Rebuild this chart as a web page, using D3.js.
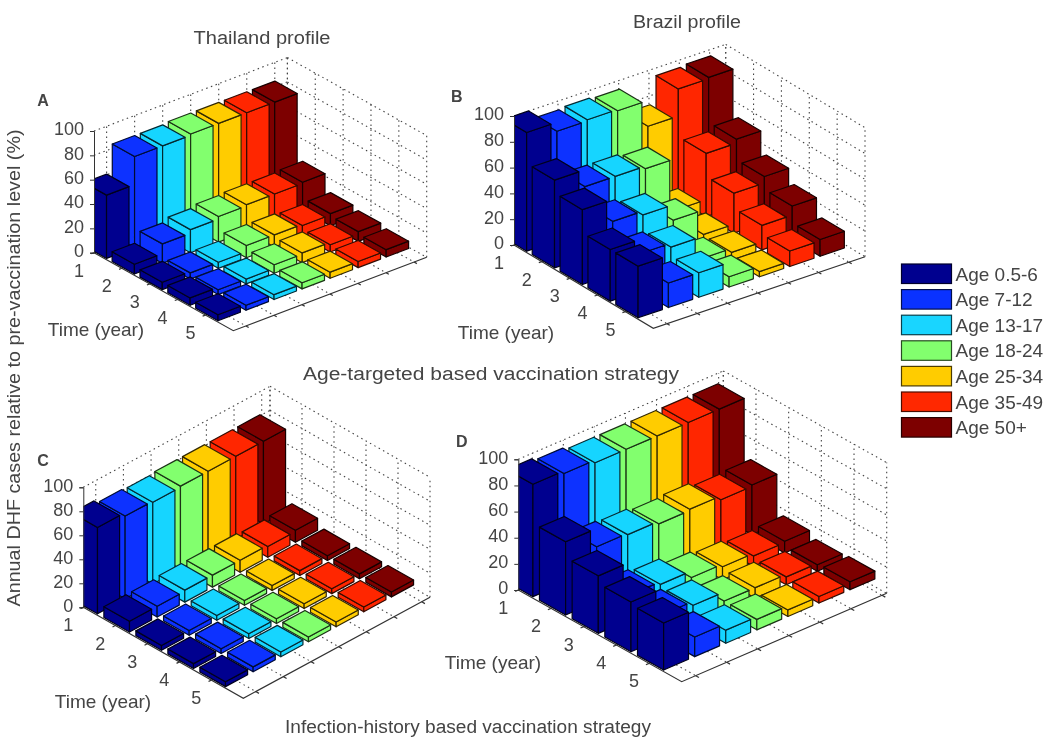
<!DOCTYPE html>
<html><head><meta charset="utf-8">
<style>
html,body{margin:0;padding:0;background:#fff;}
svg{display:block;font-family:"Liberation Sans",Arial,sans-serif;}
text{fill:#444;}
</style>
<script src="https://d3js.org/d3.v7.min.js"></script>
</head><body><svg id="c" width="1050" height="744"></svg>
<script>
const ageLabels=["Age 0.5-6","Age 7-12","Age 13-17","Age 18-24","Age 25-34","Age 35-49","Age 50+"];
const ageColors=["#00008f","#0a32ff","#19d5ff","#82ff6e","#ffcc00","#ff2800","#7d0000"];
const years=[1,2,3,4,5];
const ages=[1,2,3,4,5,6,7];
const zTicks=[0,20,40,60,80,100];
// rows = time (year 1..5), columns = age group
const valuesA=[
 [52,75,75,76,76,76,76],
 [8,16,19,21,22,22,23],
 [6,5,5,10,10,9,10],
 [6,4,4,7,8,6,8],
 [5,4,4,5,5,5,6]];
const valuesB=[
 [92,85,86,85,65,86,87],
 [68,55,55,53,13,49,52],
 [58,41,38,26,7,31,36],
 [40,29,26,9,6,19,26],
 [40,19,19,8,4,12,13]];
const valuesC=[
 [72,69,68,69,69,69,69],
 [9,9,10,10,10,9,10],
 [4,4,4,4,4,4,4],
 [4,4,4,4,4,4,4],
 [4,4,4,4,4,4,4]];
const valuesD=[
 [86,84,82,82,82,82,82],
 [56,42,41,39,40,37,38],
 [44,19,17,12,10,8,9],
 [38,18,15,8,8,6,5],
 [36,15,10,8,5,5,6]];

const panels=[
 {id:"A",values:valuesA,L:[94,252.7],F:[233.3,330.7],R:[426.7,257.3],zH:121.7,aMax:7.45,letter:[43,106],time:[96,336]},
 {id:"B",values:valuesB,L:[514,245],F:[653.3,328.3],R:[865,256.7],zH:129,aMax:7.53,letter:[456.7,102],time:[506,339]},
 {id:"C",values:valuesC,L:[83.3,607.3],F:[243.3,698.3],R:[430,597.3],zH:120,aMax:7.3,letter:[43,466],time:[103,708]},
 {id:"D",values:valuesD,L:[518.3,590],F:[681.7,681.7],R:[886.7,593.3],zH:130.7,aMax:7.15,letter:[461.7,447],time:[493,669]}
];
const tLim=[1,6], aMin=0.55, barHalf=0.4;
const svg=d3.select("#c");
const defs=svg.append("defs");
defs.append("filter").attr("id","soft").append("feGaussianBlur").attr("stdDeviation",0.5);
defs.append("filter").attr("id","softText").append("feGaussianBlur").attr("stdDeviation",0.35);

panels.forEach(p=>{
  const tx=d3.scaleLinear().domain(tLim).range([0,p.F[0]-p.L[0]]);
  const ty=d3.scaleLinear().domain(tLim).range([0,p.F[1]-p.L[1]]);
  const ax=d3.scaleLinear().domain([aMin,p.aMax]).range([0,p.R[0]-p.F[0]]);
  const ay=d3.scaleLinear().domain([aMin,p.aMax]).range([0,p.R[1]-p.F[1]]);
  const zs=d3.scaleLinear().domain([0,100]).range([p.L[1],p.L[1]-p.zH]);
  const pt=(t,a,v)=>[p.L[0]+tx(t)+ax(a), ty(t)+ay(a)+zs(v)];
  const line=d3.line();
  const g=svg.append("g");
  const clip="clip"+p.id;
  defs.append("clipPath").attr("id",clip).append("rect")
    .attr("x",p.L[0]).attr("y",0).attr("width",1050).attr("height",744);

  // dotted grid
  const grid=[];
  zTicks.forEach(z=>{
    grid.push([pt(tLim[0],aMin,z),pt(tLim[0],p.aMax,z)]);
    grid.push([pt(tLim[0],p.aMax,z),pt(tLim[1],p.aMax,z)]);
  });
  ages.forEach(a=>{
    grid.push([pt(tLim[0],a,0),pt(tLim[0],a,100)]);
    grid.push([pt(tLim[0],a,0),pt(tLim[1],a,0)]);
  });
  years.forEach(t=>{
    grid.push([pt(t,p.aMax,0),pt(t,p.aMax,100)]);
    grid.push([pt(t,aMin,0),pt(t,p.aMax,0)]);
  });
  grid.push([pt(tLim[0],p.aMax,0),pt(tLim[0],p.aMax,100)]);
  grid.push([pt(tLim[1],p.aMax,0),pt(tLim[1],p.aMax,100)]);
  g.append("g").attr("fill","none").attr("stroke","#444").attr("stroke-width",1.1)
   .attr("stroke-dasharray","1.5,3.5").selectAll("path").data(grid).join("path").attr("d",d=>line(d));

  // bars back to front
  const bars=[];
  years.forEach((t,ti)=>{
    for(let ai=ages.length-1;ai>=0;ai--){
      bars.push({t,a:ages[ai],v:p.values[ti][ai],c:ageColors[ai]});
    }
  });
  const bg=g.append("g").attr("clip-path",`url(#${clip})`).append("g").attr("filter","url(#soft)")
    .selectAll("g").data(bars).join("g")
    .attr("fill",d=>d.c)
    .attr("stroke",d=>d3.interpolateRgb(d.c,"#000")(0.8))
    .attr("stroke-width",1.2).attr("stroke-linejoin","round");
  bg.each(function(d){
    const t0=d.t-barHalf,t1=d.t+barHalf,a0=d.a-barHalf,a1=d.a+barHalf,s=d3.select(this);
    const faces=[
      [pt(t0,a0,0),pt(t1,a0,0),pt(t1,a0,d.v),pt(t0,a0,d.v)],
      [pt(t1,a0,0),pt(t1,a1,0),pt(t1,a1,d.v),pt(t1,a0,d.v)],
      [pt(t0,a0,d.v),pt(t1,a0,d.v),pt(t1,a1,d.v),pt(t0,a1,d.v)]
    ];
    s.selectAll("path").data(faces).join("path").attr("d",f=>line(f)+"Z");
  });

  // axes
  const axG=g.append("g").attr("fill","none").attr("stroke","#333").attr("stroke-width",1.2);
  axG.append("path").attr("d",line([pt(tLim[0],aMin,0),pt(tLim[1],aMin,0),pt(tLim[1],p.aMax,0)]));
  const tickA=ages.map(a=>[pt(tLim[1],a,0),pt(tLim[1]+0.1,a,0)]);
  const tickT=years.map(t=>[pt(t,aMin,0),pt(t,aMin-0.1,0)]);
  axG.selectAll("path.t").data(tickA.concat(tickT)).join("path").attr("class","t").attr("d",d=>line(d));

  const zAxis=d3.axisLeft(zs).tickValues(zTicks).tickSize(4).tickPadding(6).tickFormat(d3.format("d"));
  const zg=g.append("g").attr("transform",`translate(${p.L[0]},0)`).call(zAxis);
  zg.selectAll("text").attr("font-size",18).attr("fill","#444").attr("y",-1.8).style("font-family","inherit");
  zg.selectAll("line,path").attr("stroke","#333");

  // time labels
  g.append("g").selectAll("text").data(years).join("text")
   .attr("x",d=>pt(d,aMin,0)[0]-15).attr("y",d=>pt(d,aMin,0)[1]+24)
   .attr("text-anchor","middle").attr("font-size",18).text(d=>d);
  g.append("text").attr("x",p.time[0]).attr("y",p.time[1]).attr("text-anchor","middle").attr("font-size",19).text("Time (year)");
  g.append("text").attr("x",p.letter[0]).attr("y",p.letter[1]).attr("text-anchor","middle")
   .attr("font-size",16).attr("font-weight","bold").attr("fill","#222").text(p.id);
});

// titles
const notes=[
 {s:"Thailand profile",x:262,y:44,w:137},
 {s:"Brazil profile",x:687,y:28,w:108},
 {s:"Age-targeted based vaccination strategy",x:491,y:380,w:376},
 {s:"Infection-history based vaccination strategy",x:468,y:733,w:366}];
svg.append("g").selectAll("text").data(notes).join("text")
 .attr("x",d=>d.x).attr("y",d=>d.y).attr("text-anchor","middle").attr("font-size",18)
 .attr("textLength",d=>d.w).attr("lengthAdjust","spacingAndGlyphs").text(d=>d.s);
svg.append("text").attr("transform","translate(20,368) rotate(-90)").attr("text-anchor","middle")
 .attr("font-size",19).attr("textLength",477).attr("lengthAdjust","spacingAndGlyphs")
 .text("Annual DHF cases relative to pre-vaccination level (%)");

// legend
const ly=d3.scaleBand().domain(ageLabels).range([264,264+25.6*7]);
const lg=svg.append("g").selectAll("g").data(ageLabels).join("g")
 .attr("transform",d=>`translate(901.5,${ly(d)})`);
lg.append("rect").attr("width",50).attr("height",19.5)
 .attr("fill",(d,i)=>ageColors[i]).attr("stroke",(d,i)=>d3.interpolateRgb(ageColors[i],"#000")(0.7)).attr("stroke-width",1.2);
lg.append("text").attr("x",54).attr("y",16.5).attr("font-size",19).text(d=>d);
svg.selectAll("text").attr("filter","url(#softText)");
</script></body></html>
